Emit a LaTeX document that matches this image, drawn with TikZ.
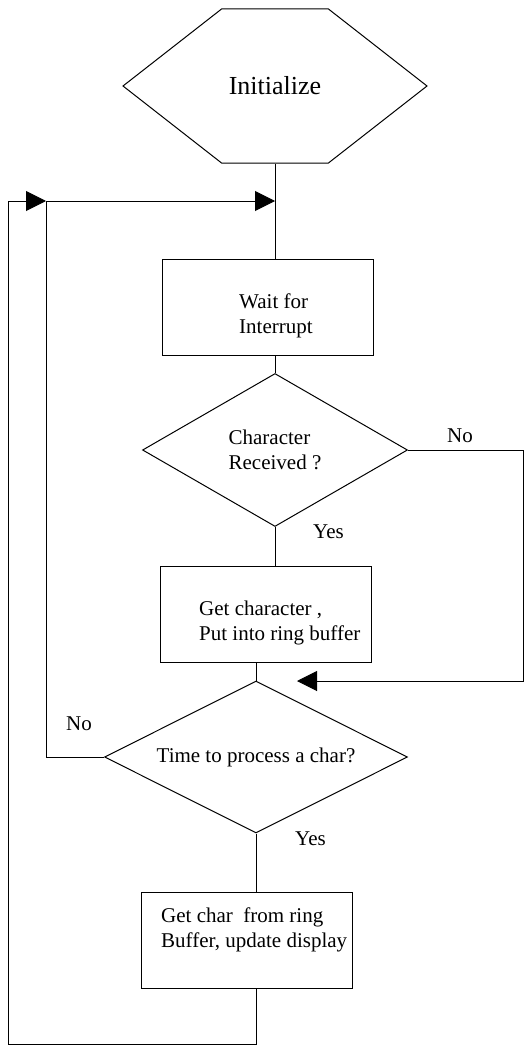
\documentclass[tikz,border=0pt]{standalone}
\usepackage{fontspec}
\setmainfont{Liberation Serif}
\usetikzlibrary{arrows.meta, shapes.geometric, shapes.symbols}
\tikzset{
  shapebox/.style={
    draw,
    line width=1pt,
    inner sep=0pt,
    font=\fontsize{21}{24.5}\selectfont
  },
  startbox/.style={shapebox, signal, signal to=east and west, signal pointer angle=76,
    font=\fontsize{26}{30}\selectfont},
  procbox/.style={shapebox, rectangle, minimum width=211pt, minimum height=96pt},
  decision/.style={shapebox, diamond, align=left},
  txt/.style={inner sep=0pt, align=left, anchor=base west, font=\fontsize{21}{24.5}\selectfont},
  lbl/.style={inner sep=0pt, anchor=base west, font=\fontsize{21}{24.5}\selectfont},
  conn/.style={line width=1pt},
  arr/.style={conn, -{Triangle[length=20pt, width=20pt]}}
}

\begin{document}
\begin{tikzpicture}[x=1pt, y=-1pt]
\useasboundingbox (0,0) rectangle (527,1046);

% Shapes
\node[startbox, minimum width=304pt, minimum height=154pt] (init) at (275,86) {Initialize};
\node[procbox] (wait) at (267.5,307) {};
\node[decision, aspect=1.73, minimum width=265pt, minimum height=153pt] (recv) at (275,450) {Character\\Received ?};
\node[procbox] (store) at (265.5,614) {};
\node[decision, aspect=2, minimum width=303pt, minimum height=152pt] (proc) at (256,757) {Time to process a char?};
\node[procbox] (show) at (246.5,940) {};

% Box texts (base = last line)
\node[txt] (waitTxt) at (239,333) {Wait for\\Interrupt};
\node[txt] (storeTxt) at (199,640) {Get character ,\\Put into ring buffer};
\node[txt] (showTxt) at (161,947) {Get char\ \ from ring\\Buffer, update display};

% Loop points
\coordinate (join) at (275,201);
\coordinate (inner) at (46,201);
\coordinate (outer) at (8,201);
\coordinate (merge) at (297,681);

% Main flow
\draw[conn] (init.south) -- (init.south |- wait.north);
\draw[conn] (recv.north |- wait.south) -- (recv.north);
\draw[conn] (recv.south) -- (recv.south |- store.north);
\draw[conn] (proc.north |- store.south) -- (proc.north);
\draw[conn] (proc.south) -- (proc.south |- show.north);

% Branches and loops
\draw[arr] (recv.east) -- ++(115,0) |- (merge);
\draw[arr] (proc.west) -- (inner |- proc.west) -- (inner) -- (join);
\draw[arr] (proc.south |- show.south) -- ++(0,56) -| (outer) -- (inner);

% Branch labels
\node[lbl] (yesRecv) at (313,538) {Yes};
\node[lbl] (noRecv) at (447,442) {No};
\node[lbl] (noProc) at (66,730) {No};
\node[lbl] (yesProc) at (295,845) {Yes};

\end{tikzpicture}
\end{document}
